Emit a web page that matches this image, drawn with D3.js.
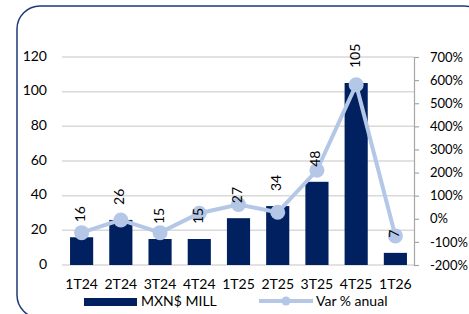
<!DOCTYPE html>
<meta charset="utf-8">
<script src="https://d3js.org/d3.v7.min.js"></script>
<style>
  body { margin: 0; background: #fff; }
  text { font-family: Lato, "Open Sans", sans-serif; }
</style>
<div id="chart"></div>
<script>
var quarters = ["1T24", "2T24", "3T24", "4T24", "1T25", "2T25", "3T25", "4T25", "1T26"]
var mill = [16, 26, 15, 15, 27, 34, 48, 105, 7]
var varAnual = [-60, -5, -60, 24, 62, 28, 210, 580, -74]
var leftTicks = [0, 20, 40, 60, 80, 100, 120]
var rightTicks = [-200, -100, 0, 100, 200, 300, 400, 500, 600, 700]

var width = 469, height = 314
var svg = d3.select("#chart").append("svg")
  .attr("width", width).attr("height", height)

// frame
svg.append("rect")
  .attr("x", 17).attr("y", 6)
  .attr("width", 470).attr("height", 312)
  .attr("rx", 23).attr("ry", 23)
  .attr("fill", "none").attr("stroke", "#1f3a78").attr("stroke-width", 1.5)

var x = d3.scaleBand().domain(quarters).range([62, 415]).paddingInner(0.41).paddingOuter(0.205)
var y = d3.scaleLinear().domain([0, 120]).range([265, 57])
var y2 = d3.scaleLinear().domain([-200, 700]).range([265, 57])

// gridlines
svg.selectAll(".grid").data(leftTicks).enter().append("line")
  .attr("x1", 62).attr("x2", 414)
  .attr("y1", d => y(d)).attr("y2", d => y(d))
  .attr("stroke", "#d9d9d9").attr("stroke-width", 1.5)

// left axis labels
svg.selectAll(".ly").data(leftTicks).enter().append("text")
  .attr("x", 47).attr("y", d => y(d))
  .attr("text-anchor", "end").attr("dominant-baseline", "middle")
  .style("font-size", "14px").attr("fill", "#000")
  .text(d => d)

// right axis
var rAxis = svg.append("g").attr("transform", "translate(414,0)")
  .call(d3.axisRight(y2).tickValues(rightTicks).tickSize(5).tickPadding(11).tickFormat(d => d + "%"))
rAxis.select(".domain").attr("stroke", "#a6a6a6").attr("stroke-width", 1.2)
rAxis.selectAll("line").attr("stroke", "#a6a6a6").attr("stroke-width", 1.2)
rAxis.selectAll("text").style("font-size", "13px").attr("fill", "#000")
  .style("font-family", "Lato, 'Open Sans', sans-serif")

// bars
svg.selectAll(".bar").data(mill).enter().append("rect")
  .attr("x", (d, i) => x(quarters[i]))
  .attr("y", d => y(d))
  .attr("width", x.bandwidth())
  .attr("height", d => y(0) - y(d))
  .attr("fill", "#002060")

// x labels
svg.selectAll(".xl").data(quarters).enter().append("text")
  .attr("x", d => x(d) + x.bandwidth() / 2).attr("y", 285)
  .attr("text-anchor", "middle").attr("dominant-baseline", "middle")
  .style("font-size", "14px").attr("fill", "#000")
  .text(d => d)

// line
var line = d3.line()
  .x((d, i) => x(quarters[i]) + x.bandwidth() / 2)
  .y(d => y2(d))
svg.append("path").datum(varAnual)
  .attr("d", line)
  .attr("fill", "none").attr("stroke", "#b4c7e7").attr("stroke-width", 4)
svg.selectAll(".dot").data(varAnual).enter().append("circle")
  .attr("cx", (d, i) => x(quarters[i]) + x.bandwidth() / 2)
  .attr("cy", d => y2(d))
  .attr("r", 7.5)
  .attr("fill", "#b4c7e7")

// value labels, rotated
svg.selectAll(".vl").data(mill).enter().append("text")
  .attr("transform", (d, i) => "translate(" + (x(quarters[i]) + x.bandwidth() / 2) + "," + (y(d) - 15) + ") rotate(-90)")
  .attr("dominant-baseline", "middle")
  .style("font-size", "14px").attr("fill", "#000")
  .text(d => d)

// legend
svg.append("rect").attr("x", 84).attr("y", 298).attr("width", 53).attr("height", 8).attr("fill", "#002060")
svg.append("text").attr("x", 141).attr("y", 302).attr("dominant-baseline", "middle")
  .style("font-size", "14px").text("MXN$ MILL")
svg.append("line").attr("x1", 259).attr("x2", 313).attr("y1", 301).attr("y2", 301)
  .attr("stroke", "#b4c7e7").attr("stroke-width", 4)
svg.append("circle").attr("cx", 286).attr("cy", 301).attr("r", 4.5).attr("fill", "#b4c7e7")
svg.append("text").attr("x", 316).attr("y", 302).attr("dominant-baseline", "middle")
  .style("font-size", "14px").text("Var % anual")
</script>
